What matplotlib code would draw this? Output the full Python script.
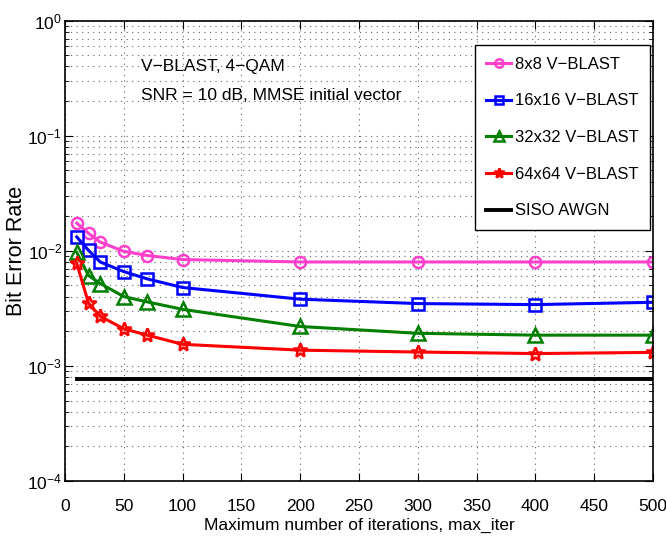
"""BER vs max_iter for V-BLAST detection (MATLAB-style figure)."""

import matplotlib

matplotlib.use("Agg")

import matplotlib.pyplot as plt
from matplotlib.ticker import LogLocator, NullFormatter

plt.rcParams["font.family"] = ["Liberation Sans", "DejaVu Sans"]

max_iter = [10, 20, 30, 50, 70, 100, 200, 300, 400, 500]
ber_8x8 = [0.0174, 0.0142, 0.0119, 0.0099, 0.0091, 0.0084, 0.0080, 0.0080, 0.0080, 0.0080]
ber_16x16 = [0.0132, 0.0101, 0.0080, 0.0066, 0.0057, 0.0048, 0.0038, 0.00348, 0.00341, 0.00357]
ber_32x32 = [0.0097, 0.0061, 0.0052, 0.0040, 0.0036, 0.0031, 0.0022, 0.00192, 0.00185, 0.00185]
ber_64x64 = [0.0078, 0.0035, 0.0027, 0.0021, 0.00185, 0.00154, 0.00137, 0.00132, 0.00128, 0.00131]
siso_x = [10, 500]
siso_ber = [0.00077, 0.00077]

labels = ["8x8 V\u2212BLAST", "16x16 V\u2212BLAST", "32x32 V\u2212BLAST", "64x64 V\u2212BLAST"]

fig = plt.figure(figsize=(6.66, 5.47), dpi=100)
ax = fig.add_axes([0.0976, 0.1207, 0.8829, 0.8415])

ax.semilogy(max_iter, ber_8x8, color="#ff40cc", lw=2.2, marker="o", ms=8,
            mfc="none", mew=1.8, label=labels[0])
ax.semilogy(max_iter, ber_16x16, color="#0000ff", lw=2.2, marker="s", ms=8,
            mfc="none", mew=1.8, label=labels[1])
ax.semilogy(max_iter, ber_32x32, color="#007f00", lw=2.2, marker="^", ms=10,
            mfc="none", mew=1.8, label=labels[2])
ax.semilogy(max_iter, ber_64x64, color="#ff0000", lw=2.2, marker="*", ms=10,
            mfc="none", mew=1.8, label=labels[3])
ax.semilogy(siso_x, siso_ber, color="black", lw=2.8, label="SISO AWGN")

ax.set_xlim(0, 500)
ax.set_ylim(1e-4, 1)
ax.set_xticks(range(0, 501, 50))
ax.yaxis.set_major_locator(LogLocator(base=10, numticks=10))
ax.yaxis.set_minor_locator(LogLocator(base=10, subs=range(2, 10), numticks=10))
ax.yaxis.set_minor_formatter(NullFormatter())

grid_style = dict(linestyle=(0, (1, 4)), color="#666666", lw=0.8)
ax.grid(True, which="major", **grid_style)
ax.grid(True, which="minor", axis="y", **grid_style)
ax.tick_params(which="both", direction="in", top=True, right=True, labelsize=12.5)
ax.tick_params(axis="x", pad=13)
ax.tick_params(axis="y", pad=2)
ax.tick_params(which="major", length=6)
ax.tick_params(which="minor", length=3)
for sp in ax.spines.values():
    sp.set_linewidth(1.2)

ax.set_xlabel("Maximum number of iterations, max_iter", fontsize=12.5, labelpad=3)
ax.set_ylabel("Bit Error Rate", fontsize=15.5)
ax.yaxis.set_label_coords(-0.064, 0.5)

ax.text(65, 0.396, "V\u2212BLAST, 4\u2212QAM", fontsize=12.5, va="center")
ax.text(65, 0.223, "SNR = 10 dB, MMSE initial vector", fontsize=12.5, va="center")

leg = ax.legend(loc="upper right", bbox_to_anchor=(0.995, 0.947), fontsize=12,
                fancybox=False, edgecolor="black", framealpha=1,
                handlelength=1.5, labelspacing=1.3, borderpad=0.7,
                handletextpad=0.2, borderaxespad=0, markerscale=0.75)
leg.get_frame().set_linewidth(1.0)

fig.savefig("out.png", dpi=100)
